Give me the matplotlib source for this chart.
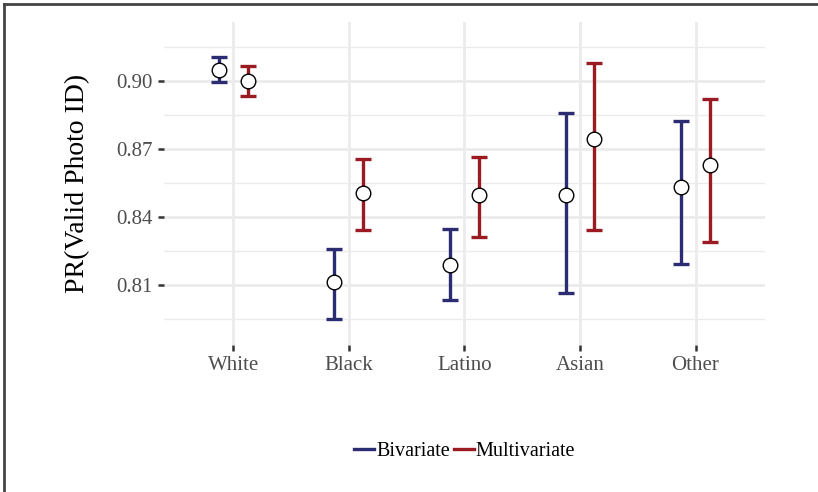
import numpy as np
import matplotlib
matplotlib.use("Agg")
import matplotlib.pyplot as plt
from matplotlib.lines import Line2D

plt.rcParams['font.family'] = ['Liberation Serif', 'DejaVu Serif']

groups = ["White", "Black", "Latino", "Asian", "Other"]

biv_est = [0.9049, 0.8113, 0.8188, 0.8497, 0.8532]
biv_lo = [0.8994, 0.7951, 0.8035, 0.8064, 0.8191]
biv_hi = [0.9104, 0.8258, 0.8346, 0.8859, 0.8824]

mult_est = [0.9000, 0.8504, 0.8497, 0.8743, 0.8628]
mult_lo = [0.8934, 0.8343, 0.8312, 0.8344, 0.8288]
mult_hi = [0.9066, 0.8657, 0.8666, 0.9078, 0.8922]

navy = "#2C2C73"
red = "#9A1C22"

fig = plt.figure(figsize=(8.18, 4.92), dpi=100)
ax = fig.add_axes([0.2005, 0.2988, 0.7345, 0.6565])

x = np.arange(1, len(groups) + 1)
dodge = 0.125

def draw(xs, est, lo, hi, col):
    est = np.array(est)
    yerr = [est - np.array(lo), np.array(hi) - est]
    ax.errorbar(xs, est, yerr=yerr, fmt='none', ecolor=col, elinewidth=2.4,
                capsize=5.5, capthick=2.4, zorder=3)
    ax.plot(xs, est, 'o', ms=10.5, mfc='white', mec='black', mew=1.0, zorder=4)

draw(x - dodge, biv_est, biv_lo, biv_hi, navy)
draw(x + dodge, mult_est, mult_lo, mult_hi, red)

ax.set_xlim(0.4, 5.6)
ax.set_ylim(0.7835, 0.926)
ax.set_xticks(x)
ax.set_xticklabels(groups)
ax.set_yticks([0.81, 0.84, 0.87, 0.90])
ax.set_yticklabels(["0.81", "0.84", "0.87", "0.90"])
ax.set_yticks([0.795, 0.825, 0.855, 0.885, 0.915], minor=True)

ax.grid(which='major', color='#EBEBEB', lw=2.0, zorder=0)
ax.grid(which='minor', axis='y', color='#EBEBEB', lw=1.0, zorder=0)
ax.set_axisbelow(True)
for s in ax.spines.values():
    s.set_visible(False)
ax.tick_params(axis='both', which='major', length=4, width=1.8, color='#333333',
               labelsize=15, labelcolor='#4D4D4D', pad=4)
ax.tick_params(axis='y', which='minor', length=0)

ax.set_ylabel("PR(Valid Photo ID)", fontsize=20, labelpad=19)

handles = [Line2D([], [], color=navy, lw=2.4), Line2D([], [], color=red, lw=2.4)]
fig.legend(handles, ["Bivariate", "Multivariate"], loc='center',
           bbox_to_anchor=(0.568, 0.082), ncol=2, frameon=False, fontsize=14.5,
           handlelength=1.0, handletextpad=0.1, columnspacing=0.2)

# outer frame: top and left edge
fig.add_artist(Line2D([0.005, 0.005], [0, 0.991], transform=fig.transFigure,
                      color='#444444', lw=2))
fig.add_artist(Line2D([0.005, 1.0], [0.991, 0.991], transform=fig.transFigure,
                      color='#444444', lw=2))

fig.savefig("out.png", dpi=100)
